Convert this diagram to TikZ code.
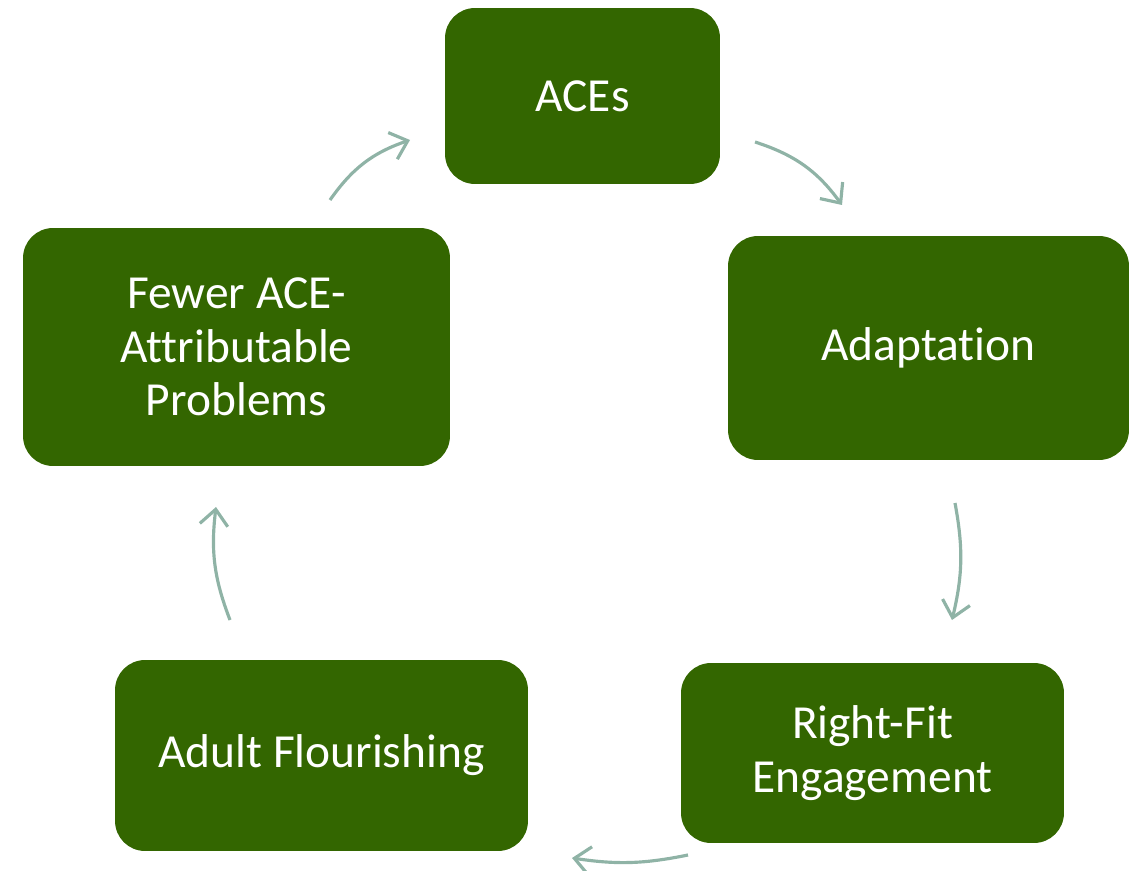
\documentclass[tikz,border=0pt]{standalone}
\usepackage{fontspec}
\setmainfont{Carlito}[Ligatures=NoCommon]
\usetikzlibrary{arrows.meta,positioning}
\definecolor{boxgreen}{HTML}{336600}
\definecolor{arrgray}{HTML}{8FB3A6}

\begin{document}
\begin{tikzpicture}[x=0.02cm, y=-0.02cm,
    font=\fontsize{27}{30.5}\selectfont,
    stage/.style={fill=boxgreen, text=white, rounded corners=0.6cm,
                  align=center, inner sep=4pt},
    arr/.style={-{Straight Barb[length=9pt, width=16pt]}, line width=1.8pt,
                arrgray, bend left=18}]

  \useasboundingbox (0,0) rectangle (1139,871);

  %% Stages of the cycle
  \node[stage, minimum width=5.5cm,  minimum height=3.52cm] (aces)  at (582.5, 96)  {ACEs};
  \node[stage, minimum width=8.02cm, minimum height=4.48cm] (adapt) at (928.5, 348) {Adaptation};
  \node[stage, minimum width=7.66cm, minimum height=3.6cm]  (fit)   at (872.5, 753) {Right-Fit\\Engagement};
  \node[stage, minimum width=8.26cm, minimum height=3.82cm] (adult) at (321.5, 755.5) {Adult Flourishing};
  \node[stage, minimum width=8.54cm, minimum height=4.76cm] (fewer) at (236.5, 347) {Fewer ACE-\\Attributable\\Problems};

  %% Arrow end points
  \coordinate (a1s) at (330,200);  \coordinate (a1e) at (410,140);
  \coordinate (a2s) at (755,142);  \coordinate (a2e) at (842,205);
  \coordinate (a3s) at (955,503);  \coordinate (a3e) at (952,620);
  \coordinate (a4s) at (688,855);  \coordinate (a4e) at (572,858);
  \coordinate (a5s) at (230,620);  \coordinate (a5e) at (216,507);

  %% Arrows
  \draw[arr] (a1s) to (a1e);
  \draw[arr] (a2s) to (a2e);
  \draw[arr, bend left=12] (a3s) to (a3e);
  \draw[arr, bend left=10] (a4s) to (a4e);
  \draw[arr, bend left=14] (a5s) to (a5e);
\end{tikzpicture}
\end{document}
